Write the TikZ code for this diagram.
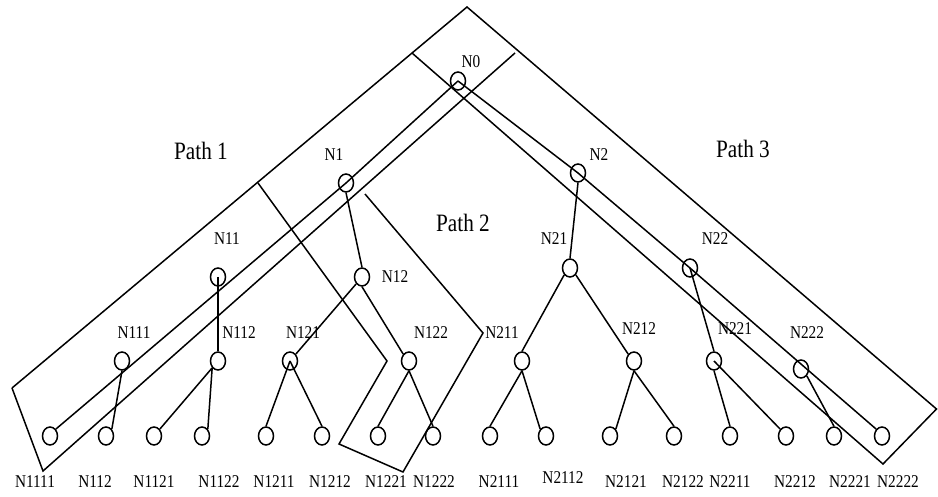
\documentclass[tikz,border=0pt]{standalone}
\usepackage{fontspec}
\setmainfont{Liberation Serif}
\usetikzlibrary{shapes.geometric}
\tikzset{
    treenode/.style={ellipse, draw, line width=1.5pt, minimum width=15pt, minimum height=18pt, inner sep=0pt},
    namelbl/.style={font=\fontsize{18}{20}\selectfont, inner sep=0pt},
    pathlbl/.style={font=\fontsize{25}{28}\selectfont, inner sep=0pt},
    link/.style={line width=1.5pt, line join=miter}
}
\newcommand{\squeeze}[1]{\scalebox{0.85}[1]{#1}}

\begin{document}
\begin{tikzpicture}[x=1pt, y=-1pt]
    \useasboundingbox (0,0) rectangle (938,497);

    % inner tree nodes
    \node[treenode] (n0) at (458,81) {};
    \node[treenode] (n1) at (346,183) {};
    \node[treenode] (n2) at (578,173) {};
    \node[treenode] (n11) at (218,277) {};
    \node[treenode] (n12) at (362,277) {};
    \node[treenode] (n21) at (570,268) {};
    \node[treenode] (n22) at (690,268) {};
    \node[treenode] (n111) at (122,361) {};
    \node[treenode] (n112) at (218,361) {};
    \node[treenode] (n121) at (290,361) {};
    \node[treenode] (n122) at (409,361) {};
    \node[treenode] (n211) at (522,361) {};
    \node[treenode] (n212) at (634,361) {};
    \node[treenode] (n221) at (714,361) {};
    \node[treenode] (n222) at (801,369) {};
    % leaves
    \foreach \i/\x in {1/50, 2/106, 3/154, 4/202, 5/266, 6/322, 7/378, 8/433,
                       9/490, 10/546, 11/610, 12/674, 13/730, 14/786, 15/834, 16/882}
        \node[treenode] (l\i) at (\x,436) {};

    % names
    \node[namelbl] (t0) at (471,62) {\squeeze{N0}};
    \node[namelbl] (t1) at (334,155) {\squeeze{N1}};
    \node[namelbl] (t2) at (599,155) {\squeeze{N2}};
    \node[namelbl] (t11) at (227,239) {\squeeze{N11}};
    \node[namelbl] (t12) at (395,277) {\squeeze{N12}};
    \node[namelbl] (t21) at (554,239) {\squeeze{N21}};
    \node[namelbl] (t22) at (715,239) {\squeeze{N22}};
    \node[namelbl] (t111) at (134,333) {\squeeze{N111}};
    \node[namelbl] (t112) at (239,333) {\squeeze{N112}};
    \node[namelbl] (t121) at (303,333) {\squeeze{N121}};
    \node[namelbl] (t122) at (431,333) {\squeeze{N122}};
    \node[namelbl] (t211) at (502,333) {\squeeze{N211}};
    \node[namelbl] (t212) at (639,329) {\squeeze{N212}};
    \node[namelbl] (t221) at (735,329) {\squeeze{N221}};
    \node[namelbl] (t222) at (807,333) {\squeeze{N222}};
    \foreach \i/\x/\y/\t in {1/35/482/N1111, 2/95/482/N112, 3/154/482/N1121, 4/219/482/N1122,
                             5/274/482/N1211, 6/330/482/N1212, 7/386/482/N1221, 8/434/482/N1222,
                             9/499/482/N2111, 10/563/478/N2112, 11/626/482/N2121, 12/683/482/N2122,
                             13/730/482/N2211, 14/795/482/N2212, 15/850/482/N2221, 16/898/482/N2222}
        \node[namelbl] (b\i) at (\x,\y) {\squeeze{\t}};

    \node[pathlbl] (p1) at (201,151) {\squeeze{Path 1}};
    \node[pathlbl] (p2) at (463,223) {\squeeze{Path 2}};
    \node[pathlbl] (p3) at (743,149) {\squeeze{Path 3}};

    % path boxes
    \draw[link] (12,388) -- (467,7) -- (936.5,409) -- (883,464) -- (412,53);
    \draw[link] (12,388) -- (43,471) -- (515,53);
    \draw[link] (258,183) -- (387,361) -- (339,444) -- (403,472) -- (483,333) -- (365,194);

    % paths through the tree
    \draw[link] (n0.center) -- (n1.center) -- (l1.north east);
    \draw[link] (n0.center) -- (n2.center) -- (n22.center) -- (l16.north west);

    % other edges
    \draw[link] (n1.south) -- (n12.north);
    \draw[link] (n11.center) -- (n112.north);
    \draw[link] (n111.south) -- (l2.north east);
    \draw[link] (n112.south west) -- (l3.north east);
    \draw[link] (n112.south west) -- (l4.north east);
    \draw[link] (n12.south west) -- (n121.north east);
    \draw[link] (n12.south) -- (n122.north west);
    \draw[link] (n121.center) -- (l5.north);
    \draw[link] (n121.center) -- (l6.north);
    \draw[link] (n122.south) -- (l7.north);
    \draw[link] (n122.south) -- (l8.north);
    \draw[link] (n2.south) -- (n21.north);
    \draw[link] (n21.south west) -- (n211.north);
    \draw[link] (n21.south east) -- (n212.north west);
    \draw[link] (n211.south) -- (l9.north);
    \draw[link] (n211.south) -- (l10.north west);
    \draw[link] (n212.south) -- (l11.north east);
    \draw[link] (n212.south) -- (l12.north);
    \draw[link] (n22.center) -- (n221.north);
    \draw[link] (n221.south) -- (l13.north);
    \draw[link] (n221.center) -- (l14.north west);
    \draw[link] (n222.south east) -- (l15.north);
\end{tikzpicture}
\end{document}
